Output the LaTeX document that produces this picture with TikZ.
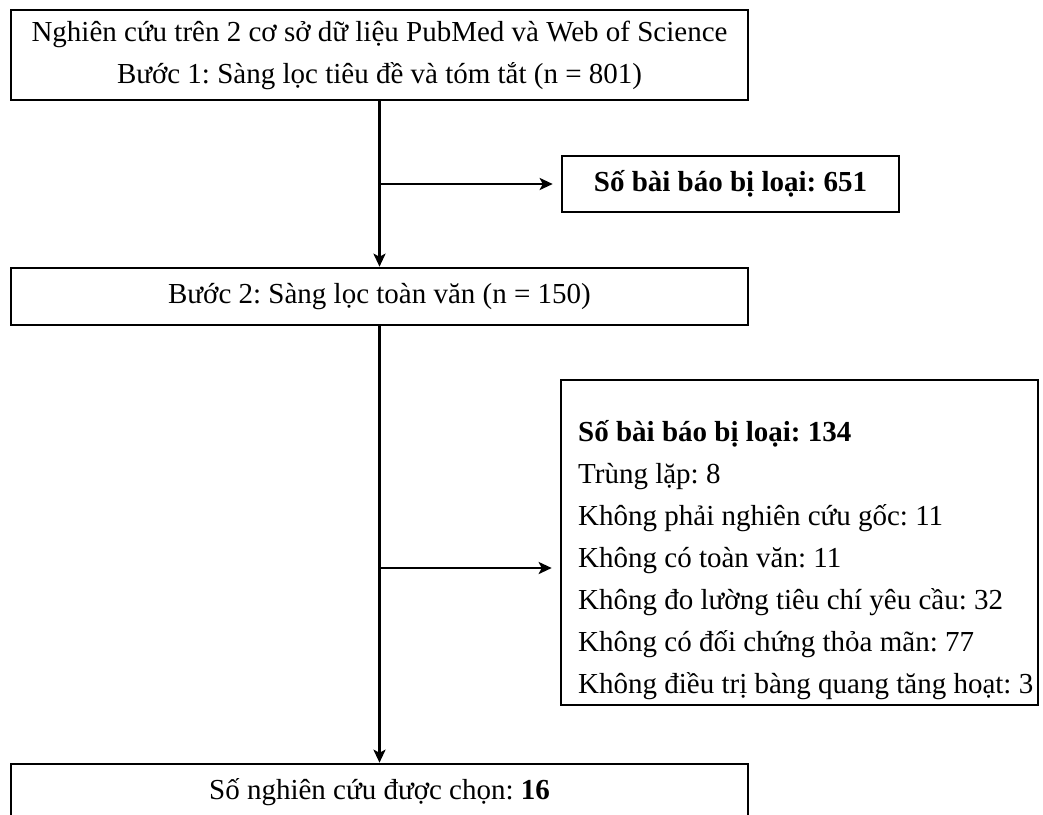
\documentclass[tikz,border=0pt]{standalone}
\usepackage{fontspec}
\setmainfont{Liberation Serif}
\usetikzlibrary{arrows.meta}
\frenchspacing

\begin{document}
\begin{tikzpicture}[x=1pt,y=-1pt,
  font=\fontsize{29}{42}\selectfont,
  stage/.style={draw, line width=2.6pt, inner sep=0pt, align=center},
  flow/.style={line width=2.4pt, -{Stealth[length=13pt,width=12pt,inset=3pt]}}]

\useasboundingbox (0,0) rectangle (1043,814);

\node[stage, minimum width=737pt, minimum height=90pt] (search) at (379.5,55)
  {Nghiên cứu trên 2 cơ sở dữ liệu PubMed và Web of Science\\Bước 1: Sàng lọc tiêu đề và tóm tắt (n = 801)};
\node[stage, minimum width=337pt, minimum height=56pt] (excl1) at (730.5,184) {\textbf{Số bài báo bị loại: 651}};
\node[stage, minimum width=737pt, minimum height=57pt] (fulltext) at (379.5,296.5) {Bước 2: Sàng lọc toàn văn (n = 150)};
\node[stage, minimum width=477pt, minimum height=325pt] (excl2) at (799.5,542.5) {};
\node[stage, minimum width=737pt, minimum height=57pt] (final) at (379.5,792.5) {Số nghiên cứu được chọn: \textbf{16}};

\foreach \txt [count=\i] in {\textbf{Số bài báo bị loại: 134}, Trùng lặp: 8, Không phải nghiên cứu gốc: 11,
  Không có toàn văn: 11, Không đo lường tiêu chí yêu cầu: 32, Không có đối chứng thỏa mãn: 77,
  Không điều trị bàng quang tăng hoạt: 3}
  \node[anchor=base west, inner sep=0pt] (reason\i) at (578,399+42*\i) {\txt};

\coordinate (split1) at (search.south |- excl1.west);
\coordinate (split2) at (379.5,568);

\draw[flow] (search.south) -- (fulltext.north);
\draw[flow, shorten >=8pt] (split1) -- (excl1.west);
\draw[flow] (fulltext.south) -- (final.north);
\draw[flow, shorten >=8pt] (split2) -- (excl2.west |- split2);
\end{tikzpicture}
\end{document}
